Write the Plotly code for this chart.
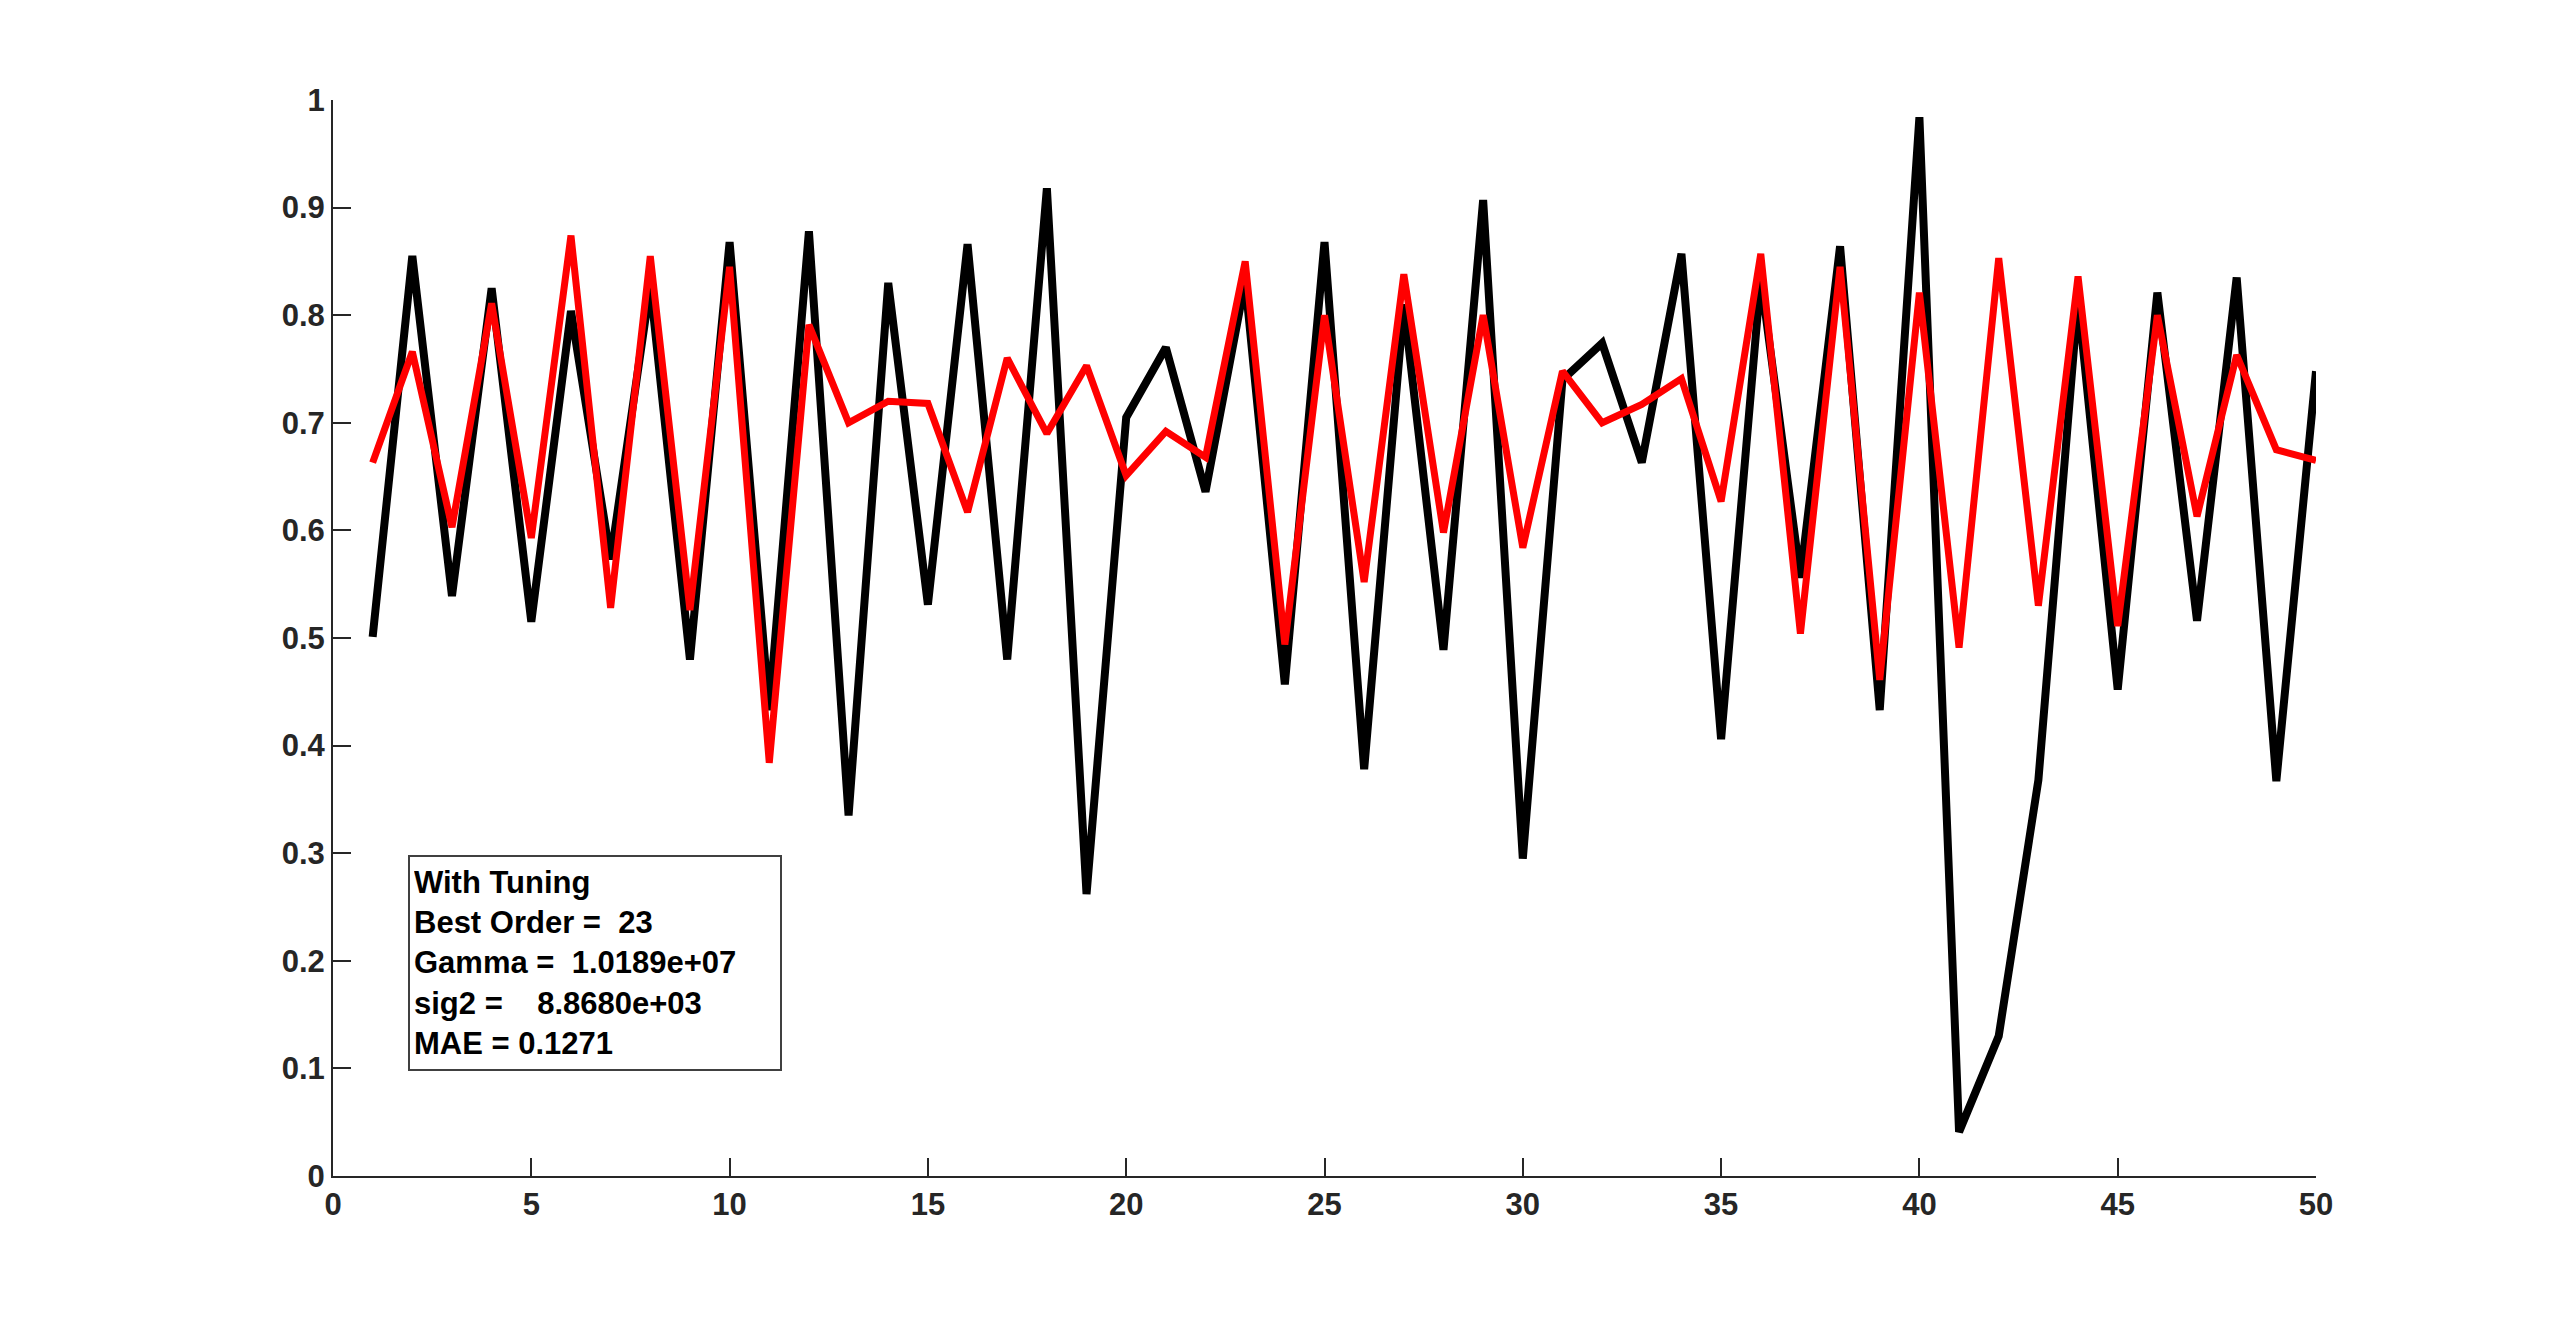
import plotly.graph_objects as go

# index 1..50
steps = list(range(1, 51))

# actual values (black)
actual = [0.501, 0.855, 0.539, 0.825, 0.515, 0.804, 0.573, 0.828, 0.480, 0.868,
          0.433, 0.878, 0.335, 0.830, 0.531, 0.866, 0.480, 0.918, 0.262, 0.705,
          0.770, 0.636, 0.832, 0.457, 0.868, 0.378, 0.810, 0.489, 0.907, 0.295,
          0.740, 0.774, 0.663, 0.857, 0.406, 0.835, 0.556, 0.864, 0.433, 0.984,
          0.041, 0.130, 0.368, 0.815, 0.452, 0.821, 0.516, 0.835, 0.367, 0.748]

# predicted values with tuning (red)
predicted = [0.663, 0.766, 0.603, 0.811, 0.593, 0.874, 0.528, 0.855, 0.526, 0.845,
             0.384, 0.791, 0.700, 0.720, 0.718, 0.617, 0.760, 0.690, 0.753, 0.651,
             0.692, 0.668, 0.850, 0.494, 0.800, 0.552, 0.838, 0.598, 0.800, 0.584,
             0.748, 0.700, 0.717, 0.741, 0.627, 0.857, 0.504, 0.845, 0.461, 0.821,
             0.491, 0.853, 0.530, 0.836, 0.511, 0.800, 0.613, 0.763, 0.675, 0.665]

x_ticks = [0, 5, 10, 15, 20, 25, 30, 35, 40, 45, 50]
y_ticks = [0, 0.1, 0.2, 0.3, 0.4, 0.5, 0.6, 0.7, 0.8, 0.9, 1]
y_labels = ['0', '0.1', '0.2', '0.3', '0.4', '0.5', '0.6', '0.7', '0.8', '0.9', '1']

info_lines = ['With Tuning', 'Best Order =  23', 'Gamma =  1.0189e+07',
              'sig2 =    8.8680e+03', 'MAE = 0.1271']

axis_col = '#262626'
font_family = 'Liberation Sans, Arial, sans-serif'

fig = go.Figure()
fig.add_trace(go.Scatter(x=steps, y=actual, mode='lines',
                         line=dict(color='black', width=8), showlegend=False))
fig.add_trace(go.Scatter(x=steps, y=predicted, mode='lines',
                         line=dict(color='#ff0000', width=7), showlegend=False))

# text box
fig.add_annotation(
    x=1.9, y=0.2985, xref='x', yref='y', xanchor='left', yanchor='top',
    text='<br>'.join('<b>%s</b>' % s for s in info_lines),
    showarrow=False, align='left',
    font=dict(family=font_family, size=31, color='black'),
    bordercolor='#404040', borderwidth=2, borderpad=4, bgcolor='white',
    width=362, height=204, valign='middle'
)

fig.update_layout(
    width=2560, height=1323,
    margin=dict(l=325, r=252, t=92, b=155),
    paper_bgcolor='white', plot_bgcolor='white',
    font=dict(family=font_family, size=31, color=axis_col),
    xaxis=dict(range=[0, 50], tickvals=x_ticks, ticks='inside', ticklen=18,
               tickwidth=2, tickcolor=axis_col, showline=True, linecolor=axis_col,
               linewidth=2, showgrid=False, zeroline=False,
               tickfont=dict(family=font_family, size=31, color=axis_col, weight='bold')),
    yaxis=dict(range=[0, 1], tickvals=y_ticks, ticktext=y_labels, ticks='inside',
               ticklen=18, tickwidth=2, tickcolor=axis_col, showline=True,
               linecolor=axis_col, linewidth=2, showgrid=False, zeroline=False,
               tickfont=dict(family=font_family, size=31, color=axis_col, weight='bold')),
)

fig.write_html("out.html")
